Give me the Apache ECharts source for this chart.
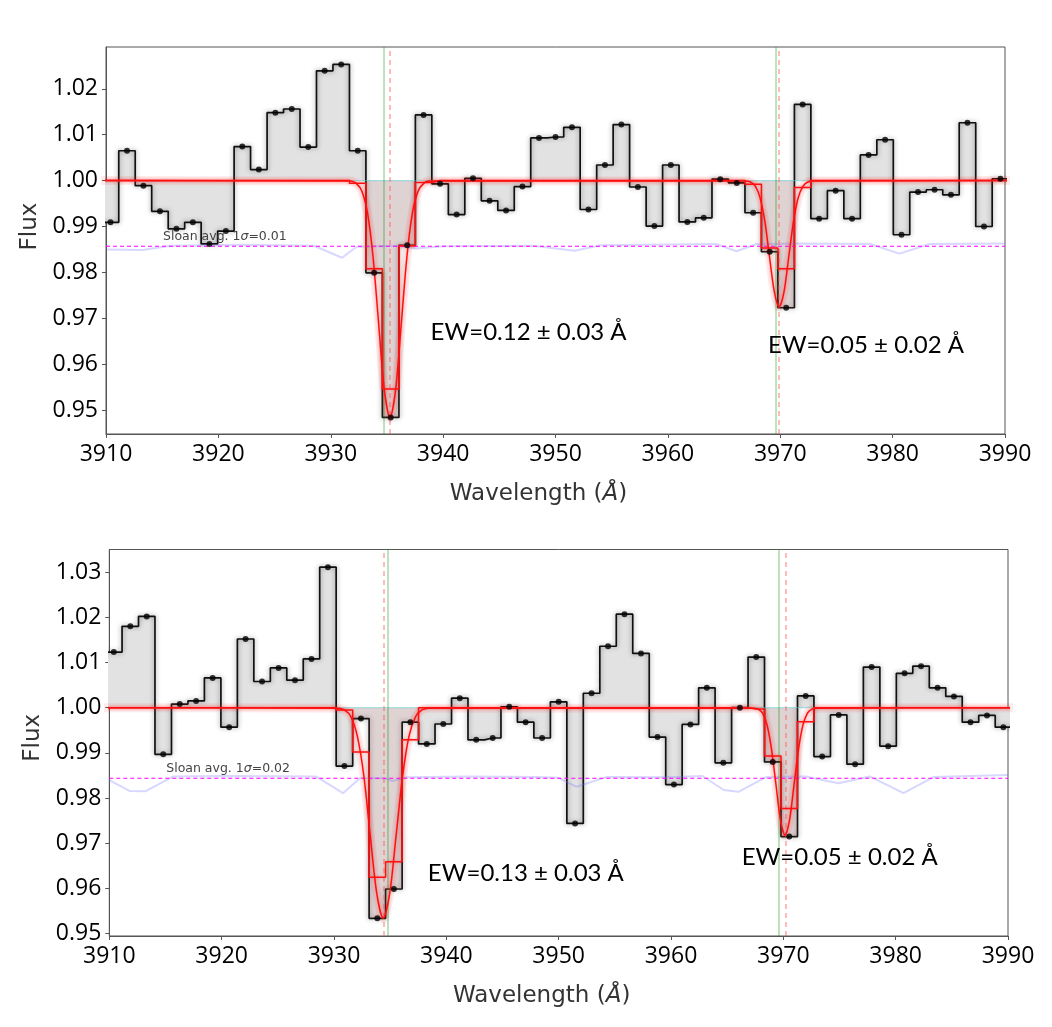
<!DOCTYPE html>
<html lang="en">
  <head>
    <meta charset="utf-8" />
    <title>Ca II H&amp;K fits</title>
    <style>
      * {
        margin: 0;
        padding: 0;
      }
      #chart-container {
        position: relative;
        height: 100vh;
        width: 100vw;
        overflow: hidden;
        background: #fff;
      }
    </style>
  </head>
  <body>
    <div id="chart-container"></div>
    <script src="https://fastly.jsdelivr.net/npm/echarts@6/dist/echarts.min.js"></script>
    <script>
      // bin centres in Angstrom, same grid for both spectra
      const wave = [
        3910.40, 3911.87, 3913.33, 3914.80, 3916.27, 3917.73, 3919.20, 3920.67, 3922.13, 3923.60,
        3925.07, 3926.53, 3928.00, 3929.46, 3930.93, 3932.40, 3933.86, 3935.33, 3936.80, 3938.26,
        3939.73, 3941.20, 3942.66, 3944.13, 3945.60, 3947.06, 3948.53, 3950.00, 3951.46, 3952.93,
        3954.40, 3955.86, 3957.33, 3958.80, 3960.26, 3961.73, 3963.19, 3964.66, 3966.13, 3967.59,
        3969.06, 3970.53, 3971.99, 3973.46, 3974.93, 3976.39, 3977.86, 3979.33, 3980.79, 3982.26,
        3983.73, 3985.19, 3986.66, 3988.13, 3989.59
      ];

      const fluxTop = [
        0.9909, 1.0065, 0.9989, 0.9933, 0.9895, 0.9909, 0.9862, 0.9890, 1.0074, 1.0024,
        1.0148, 1.0156, 1.0073, 1.0239, 1.0253, 1.0065, 0.9799, 0.9484, 0.9859, 1.0143,
        0.9993, 0.9926, 1.0005, 0.9956, 0.9935, 0.9987, 1.0093, 1.0095, 1.0116, 0.9937,
        1.0034, 1.0122, 0.9986, 0.9901, 1.0034, 0.9910, 0.9919, 1.0003, 0.9995, 0.9930,
        0.9845, 0.9723, 1.0166, 0.9917, 0.9978, 0.9917, 1.0056, 1.0089, 0.9882, 0.9975,
        0.9980, 0.9969, 1.0126, 0.9900, 1.0004
      ];
      const fluxBottom = [
        1.0123, 1.0180, 1.0202, 0.9897, 1.0008, 1.0015, 1.0066, 0.9957, 1.0152, 1.0058,
        1.0088, 1.0061, 1.0108, 1.0311, 0.9871, 0.9976, 0.9534, 0.9599, 0.9968, 0.9920,
        0.9964, 1.0021, 0.9929, 0.9933, 1.0002, 0.9968, 0.9933, 1.0013, 0.9744, 1.0032,
        1.0136, 1.0207, 1.0120, 0.9935, 0.9830, 0.9963, 1.0044, 0.9878, 1.0000, 1.0112,
        0.9880, 0.9715, 1.0026, 0.9892, 0.9984, 0.9875, 1.0090, 0.9915, 1.0076, 1.0092,
        1.0044, 1.0025, 0.9968, 0.9983, 0.9957
      ];

      // model averaged over each bin
      const binModelTop = [
        1, 1, 1, 1, 1, 1, 1, 1, 1, 1, 1, 1, 1, 1, 1,
        0.9994, 0.9808, 0.9546, 0.9858, 0.9996,
        1, 1, 1, 1, 1, 1, 1, 1, 1, 1, 1, 1, 1, 1, 1, 1, 1, 1, 1,
        0.9992, 0.9853, 0.9808, 0.9985,
        1, 1, 1, 1, 1, 1, 1, 1, 1, 1, 1, 1
      ];
      const binModelBottom = [
        1, 1, 1, 1, 1, 1, 1, 1, 1, 1, 1, 1, 1, 1,
        0.9995, 0.9902, 0.9625, 0.9659, 0.9929, 1,
        1, 1, 1, 1, 1, 1, 1, 1, 1, 1, 1, 1, 1, 1, 1, 1, 1, 1, 1,
        0.9997, 0.9893, 0.9777, 0.9969,
        1, 1, 1, 1, 1, 1, 1, 1, 1, 1, 1, 1
      ];

      // smooth model profiles through the K and H dips, [wavelength, flux]
      const dipKTop = [
        [3931.77, 0.9999], [3932.27, 0.9994], [3932.77, 0.9977], [3933.27, 0.9930], [3933.77, 0.9832],
        [3934.27, 0.9686], [3934.77, 0.9544], [3935.27, 0.9483], [3935.77, 0.9544], [3936.27, 0.9686],
        [3936.77, 0.9832], [3937.27, 0.9930], [3937.77, 0.9977], [3938.27, 0.9994], [3938.77, 0.9999]
      ];
      const dipHTop = [
        [3966.93, 0.9999], [3967.35, 0.9997], [3967.78, 0.9988], [3968.20, 0.9963], [3968.63, 0.9911],
        [3969.05, 0.9833], [3969.48, 0.9757], [3969.90, 0.9725], [3970.33, 0.9757], [3970.75, 0.9833],
        [3971.18, 0.9911], [3971.60, 0.9963], [3972.03, 0.9988], [3972.45, 0.9997], [3972.88, 0.9999]
      ];
      const dipKBottom = [
        [3930.36, 0.9999], [3930.93, 0.9995], [3931.51, 0.9980], [3932.08, 0.9937], [3932.66, 0.9849],
        [3933.23, 0.9717], [3933.81, 0.9589], [3934.38, 0.9534], [3934.96, 0.9589], [3935.53, 0.9717],
        [3936.11, 0.9849], [3936.68, 0.9937], [3937.26, 0.9980], [3937.83, 0.9995], [3938.41, 0.9999]
      ];
      const dipHBottom = [
        [3967.35, 0.9999], [3967.75, 0.9997], [3968.15, 0.9988], [3968.55, 0.9962], [3968.95, 0.9908],
        [3969.35, 0.9829], [3969.75, 0.9751], [3970.15, 0.9718], [3970.55, 0.9751], [3970.95, 0.9829],
        [3971.35, 0.9908], [3971.75, 0.9962], [3972.15, 0.9988], [3972.55, 0.9997], [3972.95, 0.9999]
      ];

      // faint noise curve drawn under the data
      const sigmaTop = [
        [3910.0, 0.9850], [3913.3, 0.9849], [3915.7, 0.9858], [3922.0, 0.9860], [3928.5, 0.9858],
        [3931.0, 0.9832], [3932.3, 0.9856], [3936.0, 0.9858], [3937.6, 0.9852], [3940.0, 0.9857],
        [3948.0, 0.9858], [3951.7, 0.9847], [3954.0, 0.9859], [3960.0, 0.9861], [3964.3, 0.9862],
        [3966.1, 0.9846], [3967.9, 0.9862], [3972.0, 0.9863], [3978.0, 0.9862], [3980.6, 0.9841],
        [3983.3, 0.9862], [3990.0, 0.9863]
      ];
      const sigmaBottom = [
        [3910.0, 0.9840], [3911.8, 0.9816], [3913.2, 0.9815], [3915.7, 0.9848], [3920.0, 0.9849],
        [3928.4, 0.9848], [3930.8, 0.9811], [3932.3, 0.9844], [3934.5, 0.9844], [3935.2, 0.9838],
        [3936.5, 0.9846], [3942.0, 0.9848], [3948.0, 0.9847], [3950.0, 0.9845], [3951.6, 0.9825],
        [3954.3, 0.9847], [3960.0, 0.9846], [3962.8, 0.9849], [3964.7, 0.9818], [3966.0, 0.9814],
        [3968.5, 0.9847], [3972.0, 0.9848], [3974.9, 0.9833], [3977.7, 0.9848], [3980.7, 0.9811],
        [3983.4, 0.9847], [3990.0, 0.9851]
      ];

      const sloanLevel = [0.9857, 0.9844];
      const sloanText = ["0.01", "0.02"];
      const restLines = [3934.75, 3969.6];
      const fitLinesTop = [3935.22, 3969.88];
      const fitLinesBottom = [3934.42, 3970.18];
      // bins used for the equivalent width (first, last index)
      const windowsTop = [[16, 18], [40, 41]];
      const windowsBottom = [[15, 18], [40, 41]];
      const ewTop = ["EW=0.12 ± 0.03 Å", "EW=0.05 ± 0.02 Å"];
      const ewBottom = ["EW=0.13 ± 0.03 Å", "EW=0.05 ± 0.02 Å"];
      const ewPosTop = [[3938.88, 0.9669], [3968.9, 0.9641]];
      const ewPosBottom = [[3938.35, 0.9634], [3966.29, 0.9670]];
      const yRange = [[0.9448, 1.0291], [0.9495, 1.035]];

      const xMin = 3910;
      const xMax = 3990;

      // points for step:'middle' covering whole bins from..to
      function binSteps(values, from, to) {
        const lo = wave[from] - (wave[1] - wave[0]) / 2;
        const hi = wave[to] + (wave[1] - wave[0]) / 2;
        const pts = [[lo, values[from]]];
        for (let i = from; i <= to; i++) pts.push([wave[i], values[i]]);
        pts.push([hi, values[to]]);
        return pts;
      }

      function smoothModel(dips) {
        let pts = [[xMin - 2, 1]];
        dips.forEach((d) => (pts = pts.concat(d)));
        pts.push([xMax + 2, 1]);
        return pts;
      }

      function panelSeries(p, flux, binModel, dips, sigma, windows, fitLines) {
        const ax = { xAxisIndex: p, yAxisIndex: p, silent: true, animation: false };
        const model = smoothModel(dips);
        const vlines = [];
        restLines.forEach((w) =>
          vlines.push({ xAxis: w, lineStyle: { color: "rgba(0,140,0,0.32)", width: 1.6, type: "solid" } })
        );
        fitLines.forEach((w) =>
          vlines.push({ xAxis: w, lineStyle: { color: "rgba(255,90,90,0.55)", width: 1.5, type: [5, 4] } })
        );
        return [
          {
            ...ax,
            type: "line",
            step: "middle",
            data: binSteps(flux, 0, flux.length - 1),
            showSymbol: false,
            lineStyle: { color: "#111", width: 1.7, shadowBlur: 5, shadowColor: "rgba(0,0,0,0.45)" },
            areaStyle: { origin: 1, color: "#e2e2e2", opacity: 1 },
            z: 2,
          },
          ...windows.map((w) => ({
            ...ax,
            type: "line",
            step: "middle",
            data: binSteps(flux, w[0], w[1]),
            showSymbol: false,
            lineStyle: { width: 0 },
            areaStyle: { origin: 1, color: "rgba(205,110,110,0.14)", opacity: 1 },
            z: 3,
          })),
          {
            ...ax,
            type: "line",
            data: [[xMin, 1], [xMax, 1]],
            showSymbol: false,
            lineStyle: { color: "rgba(90,205,205,0.5)", width: 1.2 },
            z: 3,
            markLine: { symbol: "none", silent: true, animation: false, label: { show: false }, data: vlines },
          },
          {
            ...ax,
            type: "line",
            data: sigma,
            showSymbol: false,
            lineStyle: { color: "rgba(110,110,255,0.28)", width: 2 },
            z: 4,
          },
          {
            ...ax,
            type: "line",
            data: [[xMin, sloanLevel[p]], [xMax, sloanLevel[p]]],
            showSymbol: false,
            lineStyle: { color: "#ff00ff", width: 1.2, type: [4, 3] },
            z: 4,
          },
          {
            ...ax,
            type: "line",
            data: model,
            smooth: 0.3,
            showSymbol: false,
            lineStyle: { color: "rgba(255,60,60,0.1)", width: 9 },
            z: 5,
          },
          {
            ...ax,
            type: "line",
            data: model,
            smooth: 0.3,
            showSymbol: false,
            lineStyle: { color: "#ff1010", width: 1.5, shadowBlur: 3, shadowColor: "rgba(255,0,0,0.4)" },
            z: 6,
          },
          {
            ...ax,
            type: "line",
            step: "middle",
            data: binSteps(binModel, 0, binModel.length - 1),
            showSymbol: false,
            lineStyle: { color: "#ff1010", width: 1.5, shadowBlur: 3, shadowColor: "rgba(255,0,0,0.35)" },
            z: 6,
          },
          {
            ...ax,
            type: "scatter",
            data: wave.map((w, i) => [w, flux[i]]),
            symbolSize: 6,
            itemStyle: { color: "#000" },
            z: 8,
          },
        ];
      }

      const tickFont = { fontFamily: "Open Sans", fontSize: 23, color: "#000" };
      const nameFont = { fontFamily: "DejaVu Sans", fontSize: 23, color: "#333" };
      const axisGrey = "#555";

      function xAxisFor(p) {
        return {
          gridIndex: p,
          type: "value",
          min: xMin,
          max: xMax,
          interval: 10,
          name: "Wavelength ({i|Å})",
          nameLocation: "middle",
          nameGap: p === 0 ? 49 : 49,
          nameTextStyle: {
            ...nameFont,
            padding: [0, 34, 0, 0],
            rich: { i: { ...nameFont, fontStyle: "italic" } },
          },
          axisLine: { show: true, lineStyle: { color: axisGrey } },
          axisTick: { show: true, length: 4, lineStyle: { color: axisGrey } },
          axisLabel: { ...tickFont, margin: 9, formatter: (v) => String(Math.round(v)) },
          splitLine: { show: false },
        };
      }

      function yAxisFor(p) {
        return {
          gridIndex: p,
          type: "value",
          min: yRange[p][0],
          max: yRange[p][1],
          splitNumber: 8,
          name: "Flux",
          nameLocation: "middle",
          nameRotate: 90,
          nameGap: p === 0 ? 61 : 64,
          nameTextStyle: { ...nameFont, padding: p === 0 ? [0, 0, 0, 28] : [0, 0, 0, 10] },
          axisLine: { show: true, lineStyle: { color: axisGrey } },
          axisTick: { show: true, length: 4, lineStyle: { color: axisGrey } },
          axisLabel: {
            ...tickFont,
            margin: 8,
            showMinLabel: false,
            showMaxLabel: false,
            formatter: (v) => v.toFixed(2),
          },
          splitLine: { show: false },
        };
      }

      var dom = document.getElementById("chart-container");
      var myChart = echarts.init(dom, null, { renderer: "canvas" });

      var option = {
        backgroundColor: "#fff",
        animation: false,
        grid: [
          { left: 106, right: 47, top: 47, height: 387, show: true, borderColor: axisGrey, borderWidth: 1 },
          { left: 109.3, right: 44, top: 549.5, height: 386.5, show: true, borderColor: axisGrey, borderWidth: 1 },
        ],
        xAxis: [xAxisFor(0), xAxisFor(1)],
        yAxis: [yAxisFor(0), yAxisFor(1)],
        series: [
          ...panelSeries(0, fluxTop, binModelTop, [dipKTop, dipHTop], sigmaTop, windowsTop, fitLinesTop),
          ...panelSeries(1, fluxBottom, binModelBottom, [dipKBottom, dipHBottom], sigmaBottom, windowsBottom, fitLinesBottom),
        ],
      };
      myChart.setOption(option);

      // annotations anchored in data coordinates
      const graphics = [];
      [0, 1].forEach((p) => {
        const at = myChart.convertToPixel({ gridIndex: p }, [3915.07, p === 0 ? 0.9878 : 0.9864]);
        graphics.push({
          type: "text",
          x: at[0],
          y: at[1],
          z: 100,
          style: {
            text: "Sloan avg. 1{s|σ}=" + sloanText[p],
            fontFamily: "DejaVu Sans",
            fontSize: 12.5,
            fill: "#444",
            verticalAlign: "middle",
            align: "left",
            rich: { s: { fontFamily: "DejaVu Sans", fontSize: 12.5, fontStyle: "italic", fill: "#444" } },
          },
        });
        const texts = p === 0 ? ewTop : ewBottom;
        const pos = p === 0 ? ewPosTop : ewPosBottom;
        texts.forEach((t, k) => {
          const q = myChart.convertToPixel({ gridIndex: p }, pos[k]);
          graphics.push({
            type: "text",
            x: q[0],
            y: q[1],
            z: 100,
            style: {
              text: t,
              fontFamily: "Lato",
              fontSize: 24,
              fill: "#000",
              verticalAlign: "middle",
              align: "left",
            },
          });
        });
      });
      myChart.setOption({ graphic: graphics });

      window.addEventListener("resize", myChart.resize);
    </script>
  </body>
</html>
